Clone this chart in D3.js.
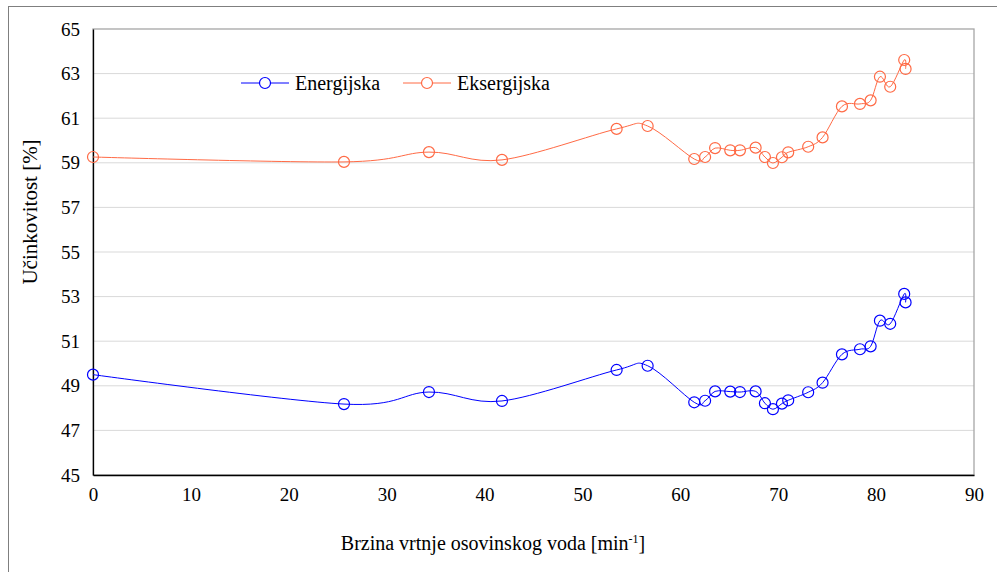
<!DOCTYPE html>
<html><head><meta charset="utf-8">
<script src="https://cdn.jsdelivr.net/npm/d3@7"></script>
<style>body{margin:0;background:#fff}svg{display:block}
svg text{font-family:"Liberation Serif","Times New Roman",Times,"DejaVu Serif",serif !important;}</style>
</head><body>
<svg id="c" width="997" height="572"></svg>
<script>
const speed = [0, 25.64, 34.32, 41.78, 53.49, 56.66, 61.42, 62.53, 63.55, 65.10, 66.09, 67.69, 68.64, 69.46, 70.38, 71.02, 73.06, 74.53, 76.51, 78.35, 79.44, 80.39, 81.44, 82.87, 83.01];
const energijska = [49.5, 48.18, 48.72, 48.32, 49.71, 49.90, 48.26, 48.33, 48.75, 48.74, 48.72, 48.75, 48.22, 47.95, 48.20, 48.35, 48.71, 49.14, 50.41, 50.64, 50.77, 51.92, 51.78, 53.12, 52.74];
const eksergijska = [59.26, 59.04, 59.48, 59.13, 60.52, 60.65, 59.17, 59.26, 59.66, 59.56, 59.56, 59.68, 59.26, 58.99, 59.25, 59.47, 59.72, 60.14, 61.53, 61.64, 61.80, 62.86, 62.41, 63.61, 63.21];
const xTicks = [0, 10, 20, 30, 40, 50, 60, 70, 80, 90];
const yTicks = [45, 47, 49, 51, 53, 55, 57, 59, 61, 63, 65];
const seriesNames = ["Energijska", "Eksergijska"];
const colors = ["#0000FF", "#FF6A45"];

const svg = d3.select("#c");
const L = 93, R = 974, T = 29, B = 475;
const x = d3.scaleLinear().domain([0, 90]).range([L, R]);
const y = d3.scaleLinear().domain([45, 65]).range([B, T]);

// outer frame
svg.append("rect").attr("x", 8.5).attr("y", 6.5).attr("width", 1000).attr("height", 600)
  .attr("fill", "none").attr("stroke", "#7f7f7f").attr("stroke-width", 1);

// gridlines
svg.append("g").selectAll("line").data(yTicks.filter(d => d > 45 && d < 65)).join("line")
  .attr("x1", L).attr("x2", R).attr("y1", d => y(d)).attr("y2", d => y(d))
  .attr("stroke", "#d9d9d9").attr("stroke-width", 1);

// plot border (top/right gray)
svg.append("rect").attr("x", L).attr("y", T).attr("width", R - L).attr("height", B - T)
  .attr("fill", "none").attr("stroke", "#a6a6a6").attr("stroke-width", 1.3);

// axes
const xAxis = d3.axisBottom(x).tickValues(xTicks).tickSize(0).tickPadding(13).tickFormat(d3.format("d"));
const gx = svg.append("g").attr("transform", `translate(0,${B})`).call(xAxis);
gx.select(".domain").attr("stroke", "#000").attr("stroke-width", 1.3);
gx.selectAll("text").attr("font-size", 19).attr("fill", "#000");

const yAxis = d3.axisLeft(y).tickValues(yTicks).tickSize(0).tickPadding(13).tickFormat(d3.format("d"));
const gy = svg.append("g").attr("transform", `translate(${L},0)`).call(yAxis);
gy.select(".domain").attr("stroke", "#000").attr("stroke-width", 1.3);
gy.selectAll("text").attr("font-size", 19).attr("fill", "#000");

// axis titles
const xt = svg.append("text").attr("x", 493).attr("y", 550).attr("text-anchor", "middle")
  .attr("font-size", 20).attr("fill", "#000");
xt.append("tspan").text("Brzina vrtnje osovinskog voda [min");
xt.append("tspan").attr("dy", -7).attr("font-size", 12).text("-1");
xt.append("tspan").attr("dy", 7).text("]");

svg.append("text").attr("transform", "translate(37,212) rotate(-90)").attr("text-anchor", "middle")
  .attr("font-size", 21).attr("fill", "#000").text("Učinkovitost [%]");

// series
const line = d3.line().x(d => x(d[0])).y(d => y(d[1])).curve(d3.curveCatmullRom.alpha(0));
[energijska, eksergijska].forEach((vals, i) => {
  const pts = speed.map((s, j) => [s, vals[j]]);
  const g = svg.append("g");
  g.append("path").attr("d", line(pts)).attr("fill", "none").attr("stroke", colors[i]).attr("stroke-width", 1);
  g.selectAll("circle").data(pts).join("circle")
    .attr("cx", d => x(d[0])).attr("cy", d => y(d[1])).attr("r", 5.5)
    .attr("fill", "none").attr("stroke", colors[i]).attr("stroke-width", 1.2);
});

// legend
const legX = [241, 403];
seriesNames.forEach((n, i) => {
  const g = svg.append("g").attr("transform", `translate(${legX[i]},83)`);
  g.append("line").attr("x1", 0).attr("x2", 48).attr("stroke", colors[i]).attr("stroke-width", 1);
  g.append("circle").attr("cx", 24).attr("r", 5.5).attr("fill", "#fff").attr("stroke", colors[i]).attr("stroke-width", 1.2);
  g.append("text").attr("x", 54).attr("y", 7).attr("font-size", 20).attr("fill", "#000").text(n);
});
</script>
</body></html>
